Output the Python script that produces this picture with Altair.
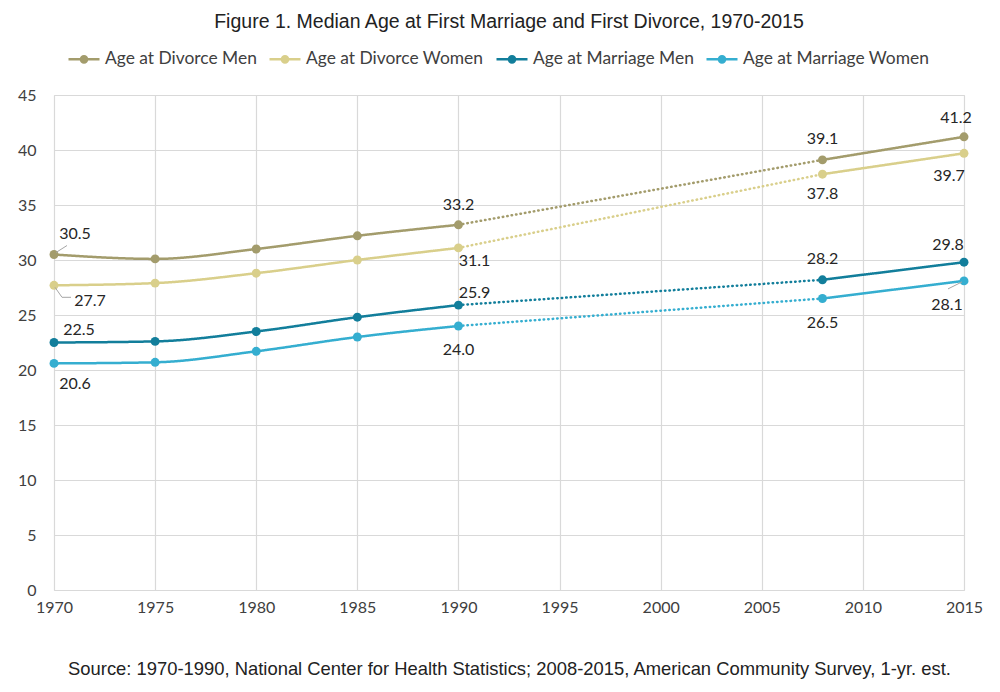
import altair as alt
import pandas as pd

years = [1970, 1975, 1980, 1985, 1990, 2008, 2015]
series_names = ["Age at Divorce Men", "Age at Divorce Women",
                "Age at Marriage Men", "Age at Marriage Women"]
divorce_men = [30.5, 30.1, 31.0, 32.2, 33.2, 39.1, 41.2]
divorce_women = [27.7, 27.9, 28.8, 30.0, 31.1, 37.8, 39.7]
marriage_men = [22.5, 22.6, 23.5, 24.8, 25.9, 28.2, 29.8]
marriage_women = [20.6, 20.7, 21.7, 23.0, 24.0, 26.5, 28.1]
colors = ["#A39C6C", "#D9CF8B", "#127E9B", "#35AED0"]

title_text = "Figure 1. Median Age at First Marriage and First Divorce, 1970-2015"
source_text = ("Source: 1970-1990, National Center for Health Statistics; "
               "2008-2015, American Community Survey, 1-yr. est.")

all_vals = [divorce_men, divorce_women, marriage_men, marriage_women]

rows = []
for name, vals in zip(series_names, all_vals):
    for yr, v in zip(years, vals):
        rows.append(dict(series=name, year=yr, value=v,
                         seg="early" if yr <= 1990 else "late", style="solid"))
    for yr, v in zip(years, vals):
        if yr in (1990, 2008):
            rows.append(dict(series=name, year=yr, value=v, seg="gap", style="dotted"))
lines_df = pd.DataFrame(rows)

pts_df = pd.DataFrame([dict(series=n, year=yr, value=v)
                       for n, vals in zip(series_names, all_vals)
                       for yr, v in zip(years, vals)])

FONT = "Lato"
symbol_path = "M-1,0L1,0M0.2,0A0.2,0.2,0,1,1,-0.2,0A0.2,0.2,0,1,1,0.2,0Z"

x_enc = alt.X("year:Q",
              scale=alt.Scale(domain=[1970, 2015], nice=False, zero=False),
              axis=alt.Axis(values=list(range(1970, 2016, 5)), format="d",
                            labelFont=FONT, labelFontSize=16, labelColor="#404040",
                            labelPadding=9, labelFlush=False, ticks=False, domain=False,
                            gridColor="#D9D9D9", gridWidth=1.2,
                            title=source_text, titleFont="Liberation Sans",
                            titleFontSize=18.4, titleFontWeight="normal",
                            titleColor="#222222", titlePadding=44))
y_enc = alt.Y("value:Q",
              scale=alt.Scale(domain=[0, 45], nice=False),
              axis=alt.Axis(values=list(range(0, 46, 5)), title=None,
                            labelFont=FONT, labelFontSize=16, labelColor="#404040",
                            labelPadding=18, ticks=False, domain=False,
                            gridColor="#D9D9D9", gridWidth=1.2))

color_enc = alt.Color("series:N",
                      scale=alt.Scale(domain=series_names, range=colors),
                      legend=alt.Legend(orient="none", legendX=13, legendY=-53,
                                        direction="horizontal", columns=4, title=None,
                                        symbolType=symbol_path, symbolSize=961,
                                        symbolStrokeWidth=2.5,
                                        labelFont=FONT, labelFontSize=17.4,
                                        labelColor="#404040", labelOffset=4,
                                        labelLimit=0, columnPadding=7))

lines = alt.Chart(lines_df).mark_line(interpolate="monotone", strokeWidth=2.5,
                                      strokeCap="round").encode(
    x=x_enc, y=y_enc, color=color_enc, detail="seg:N",
    strokeDash=alt.StrokeDash("style:N",
                              scale=alt.Scale(domain=["solid", "dotted"],
                                              range=[[1, 0], [0.5, 4]]),
                              legend=None))

points = alt.Chart(pts_df).mark_circle(size=80, opacity=1).encode(
    x="year:Q", y="value:Q", color=alt.Color("series:N", legend=None))

# label placement offsets (dx, dy) keyed by (series index, year)
placements = {
    (0, 1970): (21, -21), (0, 1990): (0, -20), (0, 2008): (0, -21), (0, 2015): (-8, -19),
    (1, 1970): (36, 16), (1, 1990): (16, 13), (1, 2008): (0, 20), (1, 2015): (-15, 23),
    (2, 1970): (25, -13), (2, 1990): (16, -12), (2, 2008): (0, -21), (2, 2015): (-16, -17),
    (3, 1970): (21, 21), (3, 1990): (0, 24), (3, 2008): (0, 24), (3, 2015): (-17, 24),
}

layers = [lines, points]
for (si, yr), (dx, dy) in placements.items():
    sub = pts_df[(pts_df.series == series_names[si]) & (pts_df.year == yr)]
    layers.append(alt.Chart(sub).mark_text(font=FONT, fontSize=16, color="#262626",
                                           dx=dx, dy=dy, baseline="middle").encode(
        x="year:Q", y="value:Q", text=alt.Text("value:Q", format=".1f")))

# leader lines
leaders = [
    (0, 1970, (2, -2, 13, -9)),
    (1, 1970, (1, 2, 8, 12)),
    (1, 1970, (8, 12, 17, 12)),
    (3, 2015, (-2, 1, -16, 8)),
]
for si, yr, (xo, yo, x2o, y2o) in leaders:
    sub = pts_df[(pts_df.series == series_names[si]) & (pts_df.year == yr)]
    layers.append(alt.Chart(sub).mark_rule(color="#A6A6A6", strokeWidth=1,
                                           xOffset=xo, yOffset=yo,
                                           x2Offset=x2o, y2Offset=y2o).encode(
        x="year:Q", y="value:Q", x2="year:Q", y2="value:Q"))

chart = alt.layer(*layers).properties(
    width=910, height=495,
    title=alt.TitleParams(text=title_text, font="Liberation Sans", fontSize=19.5,
                          fontWeight="normal", color="#222222", anchor="middle",
                          frame="group", offset=10),
    autosize=alt.AutoSizeParams(type="none"),
    padding={"left": 46, "top": 87, "right": 26, "bottom": 90},
).configure_view(stroke=None).configure(background="white")

chart.save("out.html", embed_options={"renderer": "svg", "actions": False})
